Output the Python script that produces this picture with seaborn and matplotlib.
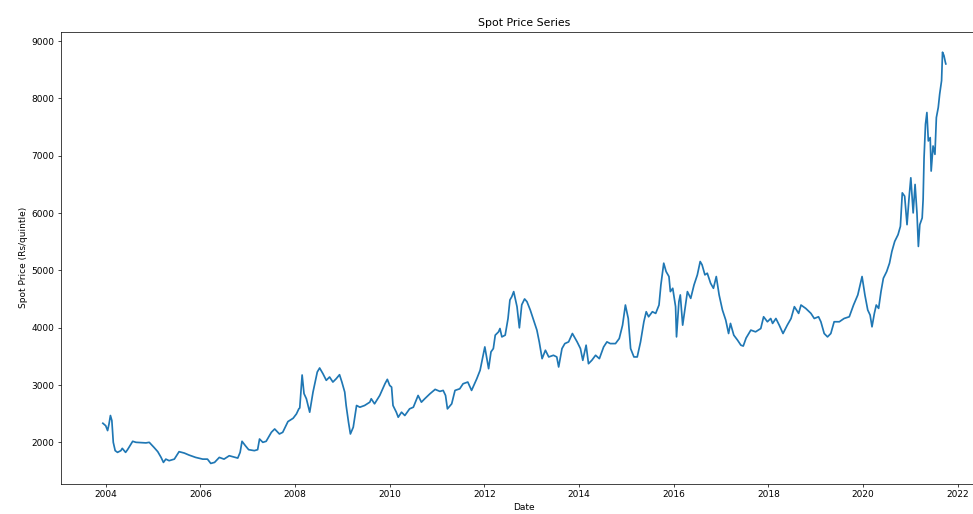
import numpy as np
import pandas as pd
import matplotlib
matplotlib.use('Agg')
import matplotlib.pyplot as plt
import matplotlib.dates as mdates
import seaborn as sns

# Fechas (año decimal) y precio spot
anios = [
    2003.94, 2004.00, 2004.04, 2004.07, 2004.10, 2004.13, 2004.16, 2004.20, 2004.25, 2004.32,
    2004.35, 2004.42, 2004.46, 2004.57, 2004.64, 2004.85, 2004.92, 2005.02, 2005.10, 2005.17,
    2005.22, 2005.27, 2005.34, 2005.45, 2005.55, 2005.66, 2005.76, 2005.90, 2006.05, 2006.15,
    2006.22, 2006.30, 2006.40, 2006.50, 2006.61, 2006.79, 2006.84, 2006.88, 2006.95, 2007.02,
    2007.14, 2007.21, 2007.25, 2007.32, 2007.39, 2007.50, 2007.57, 2007.67, 2007.74, 2007.85,
    2007.96, 2008.03, 2008.08, 2008.10, 2008.15, 2008.19, 2008.24, 2008.31, 2008.34, 2008.38,
    2008.47, 2008.52, 2008.59, 2008.66, 2008.73, 2008.80, 2008.87, 2008.94, 2008.99, 2009.05,
    2009.08, 2009.13, 2009.17, 2009.23, 2009.30, 2009.37, 2009.47, 2009.58, 2009.61, 2009.68,
    2009.79, 2009.90, 2009.95, 2010.00, 2010.04, 2010.07, 2010.14, 2010.18, 2010.25, 2010.32,
    2010.42, 2010.50, 2010.60, 2010.67, 2010.74, 2010.85, 2010.96, 2011.06, 2011.13, 2011.18,
    2011.22, 2011.31, 2011.38, 2011.48, 2011.55, 2011.65, 2011.73, 2011.84, 2011.91, 2011.96,
    2012.01, 2012.09, 2012.14, 2012.19, 2012.23, 2012.30, 2012.33, 2012.37, 2012.44, 2012.50,
    2012.54, 2012.58, 2012.62, 2012.69, 2012.74, 2012.79, 2012.85, 2012.90, 2012.97, 2013.04,
    2013.11, 2013.16, 2013.22, 2013.29, 2013.36, 2013.46, 2013.53, 2013.57, 2013.64, 2013.70,
    2013.78, 2013.86, 2013.96, 2014.03, 2014.08, 2014.15, 2014.20, 2014.27, 2014.35, 2014.43,
    2014.52, 2014.59, 2014.66, 2014.77, 2014.85, 2014.92, 2014.98, 2015.04, 2015.09, 2015.16,
    2015.23, 2015.30, 2015.37, 2015.42, 2015.47, 2015.55, 2015.62, 2015.69, 2015.73, 2015.79,
    2015.84, 2015.90, 2015.93, 2015.98, 2016.04, 2016.06, 2016.11, 2016.14, 2016.19, 2016.24,
    2016.29, 2016.36, 2016.43, 2016.50, 2016.56, 2016.60, 2016.66, 2016.71, 2016.78, 2016.84,
    2016.90, 2016.96, 2017.03, 2017.10, 2017.16, 2017.20, 2017.27, 2017.35, 2017.42, 2017.47,
    2017.53, 2017.63, 2017.73, 2017.84, 2017.90, 2017.98, 2018.05, 2018.09, 2018.16, 2018.23,
    2018.31, 2018.40, 2018.48, 2018.55, 2018.64, 2018.69, 2018.79, 2018.90, 2018.97, 2019.06,
    2019.11, 2019.18, 2019.25, 2019.32, 2019.39, 2019.50, 2019.60, 2019.71, 2019.80, 2019.89,
    2019.98, 2020.04, 2020.10, 2020.15, 2020.19, 2020.24, 2020.28, 2020.33, 2020.38, 2020.43,
    2020.50, 2020.56, 2020.61, 2020.67, 2020.74, 2020.79, 2020.83, 2020.88, 2020.93, 2020.97,
    2021.01, 2021.06, 2021.10, 2021.14, 2021.17, 2021.20, 2021.25, 2021.27, 2021.29, 2021.32,
    2021.35, 2021.38, 2021.42, 2021.44, 2021.48, 2021.52, 2021.55, 2021.59, 2021.62, 2021.66,
    2021.68, 2021.71, 2021.74, 2021.75,
]
precios = [
    2333, 2290, 2205, 2320, 2468, 2380, 2000, 1855, 1825, 1855,
    1895, 1825, 1870, 2018, 2000, 1990, 2000, 1912, 1837, 1737,
    1650, 1707, 1680, 1707, 1837, 1813, 1778, 1737, 1707, 1707,
    1632, 1650, 1737, 1707, 1766, 1725, 1825, 2018, 1942, 1872,
    1855, 1872, 2058, 2000, 2018, 2175, 2233, 2146, 2175, 2362,
    2420, 2496, 2584, 2600, 3175, 2850, 2760, 2526, 2672, 2877,
    3227, 3297, 3197, 3082, 3140, 3052, 3110, 3180, 3052, 2877,
    2643, 2350, 2146, 2263, 2643, 2613, 2643, 2701, 2760, 2672,
    2818, 3022, 3099, 2993, 2964, 2643, 2526, 2438, 2526, 2468,
    2584, 2613, 2818, 2701, 2760, 2847, 2924, 2889, 2906, 2818,
    2584, 2672, 2906, 2934, 3022, 3052, 2906, 3110, 3257, 3460,
    3665, 3285, 3578, 3636, 3870, 3928, 3986, 3840, 3870, 4161,
    4484, 4542, 4630, 4367, 3998, 4400, 4502, 4454, 4309, 4133,
    3958, 3753, 3460, 3607, 3490, 3519, 3490, 3315, 3636, 3723,
    3753, 3899, 3753, 3636, 3431, 3695, 3372, 3431, 3519, 3460,
    3665, 3753, 3723, 3723, 3811, 4045, 4396, 4161, 3636, 3490,
    3490, 3753, 4104, 4279, 4191, 4279, 4250, 4396, 4747, 5126,
    4980, 4893, 4630, 4688, 4367, 3840, 4454, 4572, 4045, 4337,
    4630, 4512, 4747, 4922, 5155, 5097, 4922, 4951, 4776, 4688,
    4893, 4572, 4309, 4133, 3899, 4075, 3870, 3782, 3695, 3680,
    3820, 3958, 3928, 3986, 4191, 4104, 4161, 4075, 4161, 4045,
    3899, 4045, 4161, 4367, 4250, 4396, 4337, 4250, 4161, 4191,
    4104, 3899, 3840, 3899, 4104, 4104, 4161, 4191, 4396, 4572,
    4893, 4572, 4309, 4221, 4016, 4250, 4396, 4337, 4630, 4863,
    4980, 5126, 5331, 5506, 5623, 5769, 6353, 6295, 5798, 6237,
    6616, 6003, 6500, 6003, 5418, 5798, 5915, 6237, 6967, 7551,
    7755, 7259, 7317, 6733, 7171, 7025, 7667, 7843, 8077, 8311,
    8807, 8749, 8632, 8603,
]

fechas = pd.Timestamp('2004-01-01') + pd.to_timedelta((np.array(anios) - 2004) * 365.25, unit='D')
df = pd.DataFrame({'Date': fechas, 'Spot Price': precios})

# Figura a escala reducida (dpi bajo para que fuentes y líneas encojan)
fig = plt.figure(figsize=(973 / 65, 514 / 65), dpi=65)
ax = fig.add_axes([0.0624, 0.0584, 0.953, 0.880])

sns.lineplot(x='Date', y='Spot Price', data=df, ax=ax, color='#1f77b4', linewidth=1.9)
ax.set_title('Spot Price Series')
ax.set_xlabel('Date')
ax.set_ylabel('Spot Price (Rs/quintle)')
ax.xaxis.set_major_locator(mdates.YearLocator(2))
ax.xaxis.set_major_formatter(mdates.DateFormatter('%Y'))

plt.savefig('out.png', dpi=65)
